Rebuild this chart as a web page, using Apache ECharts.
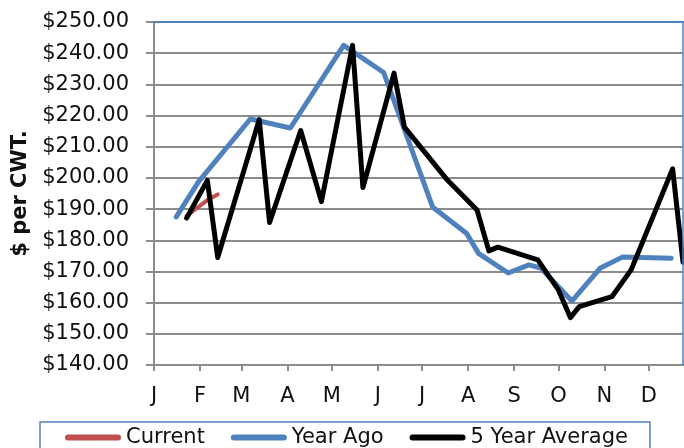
<!DOCTYPE html>
<html>
<head>
<meta charset="utf-8">
<script src="https://cdn.jsdelivr.net/npm/echarts@6/dist/echarts.min.js"></script>
<style>
html,body{margin:0;padding:0;background:#fff;}
#c{width:684px;height:448px;}
</style>
</head>
<body>
<div id="c"></div>
<script>
// ---- data (x = day of year, 0 = Jan 1) ----
const monthLabels = ['J','F','M','A','M','J','J','A','S','O','N','D'];
const monthStartDays = [0,31,59,90,120,151,181,212,243,273,304,334];
const lastDay = 357;

const currentDays   = [22, 36, 43];
const currentValues = [187.8, 192.9, 194.7];

const yearAgoDays   = [15, 30, 65, 92, 128, 155, 188, 211, 219, 239, 253, 261, 282, 301, 316, 349];
const yearAgoValues = [187.5, 198.7, 218.9, 216.0, 242.5, 233.8, 190.7, 182.2, 175.8, 169.5, 172.1, 171.1, 160.5, 171.0, 174.6, 174.2];

const avgDays   = [22, 36, 43, 71, 78, 99, 113, 134, 141, 162, 169, 198, 218, 226, 232, 259, 273, 281, 287, 309, 322, 350, 357];
const avgValues = [187.1, 199.2, 174.5, 218.7, 185.7, 215.2, 192.4, 242.5, 196.9, 233.6, 216.3, 199.3, 189.7, 176.6, 177.8, 173.7, 164.0, 155.2, 158.7, 161.9, 170.5, 202.9, 173.0];

const yMin = 140, yMax = 250, yStep = 10;
const seriesNames = ['Current', 'Year Ago', '5 Year Average'];

// ---- build ----
const dayCategories = [];
for (let d = 0; d <= lastDay; d++) dayCategories.push(String(d));
const pair = (xs, ys) => xs.map((x, i) => [x, ys[i]]);
const isMonthStart = (idx) => monthStartDays.indexOf(idx) !== -1;

const FONT = 'DejaVu Sans';
const GRID_GRAY = '#8c8c8c';
const BLUE = '#4F81BD';
const capsule = 'path://M3,0 L53,0 A3,3 0 0 1 53,6 L3,6 A3,3 0 0 1 3,0 Z';

const chart = echarts.init(document.getElementById('c'), null, {renderer: 'canvas'});
chart.setOption({
  animation: false,
  backgroundColor: '#ffffff',
  grid: {left: 154, right: 1, top: 22, bottom: 83, containLabel: false},
  legend: {
    data: seriesNames.map(n => ({name: n, icon: capsule})),
    left: 40, top: 422,
    itemWidth: 56, itemHeight: 6, itemGap: 26,
    padding: [5, 22, 30, 25],
    borderColor: BLUE, borderWidth: 1.5,
    textStyle: {fontFamily: FONT, fontSize: 21, color: '#111'}
  },
  xAxis: [{
    type: 'category',
    data: dayCategories,
    boundaryGap: false,
    axisLine: {lineStyle: {color: GRID_GRAY, width: 2}},
    axisTick: {show: true, length: 6, interval: (i) => isMonthStart(i), lineStyle: {color: GRID_GRAY, width: 2}},
    axisLabel: {
      interval: (i) => isMonthStart(i),
      formatter: (v) => { const k = monthStartDays.indexOf(Number(v)); return k >= 0 ? monthLabels[k] : ''; },
      fontFamily: FONT, fontSize: 21, color: '#111', margin: 21
    },
    splitLine: {show: false}
  }, {
    type: 'category',
    data: dayCategories,
    boundaryGap: false,
    position: 'top',
    z: 5,
    axisLine: {lineStyle: {color: BLUE, width: 2}},
    axisTick: {show: false},
    axisLabel: {show: false},
    splitLine: {show: false}
  }],
  yAxis: [{
    type: 'value',
    min: yMin, max: yMax, interval: yStep,
    name: '$ per CWT.',
    nameLocation: 'middle',
    nameRotate: 90,
    nameGap: 120,
    nameTextStyle: {fontFamily: FONT, fontSize: 21, fontWeight: 'bold', color: '#111'},
    axisLine: {show: true, lineStyle: {color: GRID_GRAY, width: 2}},
    axisTick: {show: true, length: 8, lineStyle: {color: GRID_GRAY, width: 2}},
    axisLabel: {formatter: (v) => '$' + v.toFixed(2), fontFamily: FONT, fontSize: 21, color: '#111', margin: 25},
    splitLine: {show: true, lineStyle: {color: GRID_GRAY, width: 2}}
  }, {
    type: 'value',
    min: yMin, max: yMax, interval: yStep,
    position: 'right',
    z: 5,
    axisLine: {show: true, lineStyle: {color: BLUE, width: 1.5}},
    axisTick: {show: false},
    axisLabel: {show: false},
    splitLine: {show: false}
  }],
  series: [
    {name: seriesNames[0], type: 'line', data: pair(currentDays, currentValues), showSymbol: false, symbol: 'none',
     connectNulls: true, color: '#C0504D', lineStyle: {width: 4, color: '#C0504D', cap: 'round', join: 'round'}},
    {name: seriesNames[1], type: 'line', data: pair(yearAgoDays, yearAgoValues), showSymbol: false, symbol: 'none',
     color: BLUE, lineStyle: {width: 5, color: BLUE, cap: 'round', join: 'round'}},
    {name: seriesNames[2], type: 'line', data: pair(avgDays, avgValues), showSymbol: false, symbol: 'none',
     color: '#000000', lineStyle: {width: 5, color: '#000000', cap: 'round', join: 'round'}}
  ]
});
</script>
</body>
</html>
